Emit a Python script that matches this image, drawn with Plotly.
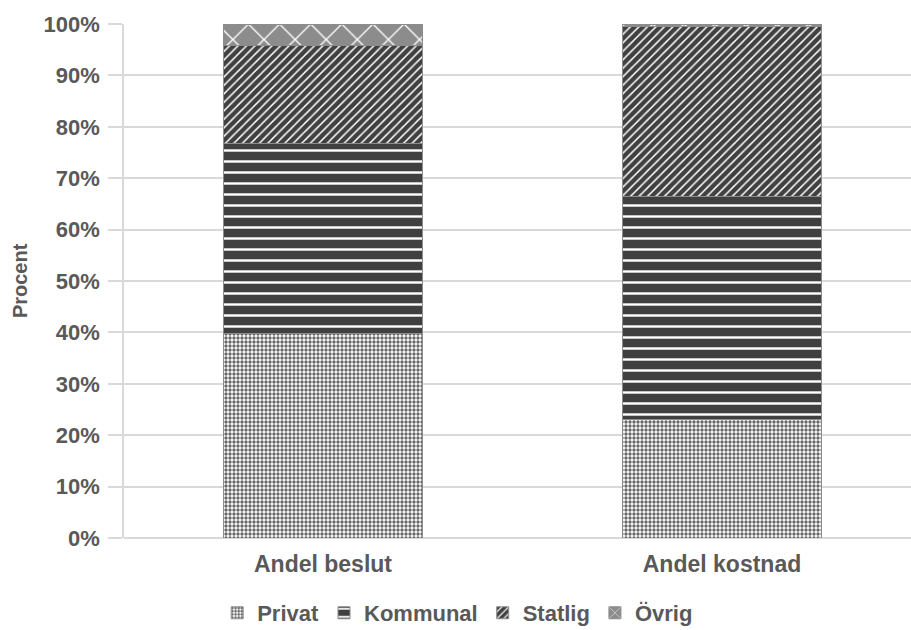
import plotly.graph_objects as go

categories = ["Andel beslut", "Andel kostnad"]
privat = [39.7, 23.0]
kommunal = [37.1, 43.5]
statlig = [19.0, 33.0]
ovrig = [4.2, 0.5]
tick_vals = [0, 10, 20, 30, 40, 50, 60, 70, 80, 90, 100]
tick_text = [f"{v}%" for v in tick_vals]

font_family = "Liberation Sans, Arial, sans-serif"
txt = "#595959"

series = [
    ("Privat", privat, dict(shape=".", fgcolor="#666666", bgcolor="#ffffff", size=4, solidity=0.55, fillmode="replace")),
    ("Kommunal", kommunal, dict(shape="-", fgcolor="#ffffff", bgcolor="#404040", size=11, solidity=0.22, fillmode="replace")),
    ("Statlig", statlig, dict(shape="/", fgcolor="#ffffff", bgcolor="#404040", size=6, solidity=0.25, fillmode="replace")),
    ("Övrig", ovrig, dict(shape="x", fgcolor="#ffffff", bgcolor="#8c8c8c", size=22, solidity=0.12, fillmode="replace")),
]

fig = go.Figure()
for name, vals, pat in series:
    fig.add_trace(go.Bar(
        name=name, x=categories, y=vals, width=0.501,
        marker=dict(color=pat["bgcolor"], pattern=pat,
                    line=dict(color="#8c8c8c", width=1)),
    ))

fig.update_layout(
    barmode="stack",
    width=911, height=630,
    margin=dict(l=124, r=0, t=24, b=92, autoexpand=False),
    paper_bgcolor="white", plot_bgcolor="white",
    font=dict(family=font_family, color=txt, size=22),
    showlegend=True,
    legend=dict(orientation="h", x=0.424, xanchor="center", y=-0.105, yanchor="top",
                font=dict(family=font_family, size=22, color=txt, weight="bold"),
                traceorder="normal", itemwidth=30),
    xaxis=dict(range=[-0.4987, 1.4737], showline=False, ticks="", automargin=False,
               ticklabelstandoff=10,
               tickfont=dict(family=font_family, size=23, color=txt, weight="bold")),
    yaxis=dict(range=[0, 100], tickvals=tick_vals, ticktext=tick_text, automargin=False,
               showgrid=True, gridcolor="#d9d9d9", gridwidth=1.5,
               showline=True, linecolor="#d9d9d9", linewidth=1.5,
               ticks="outside", ticklen=14, tickcolor="#d9d9d9", tickwidth=1.5,
               zeroline=True, zerolinecolor="#d9d9d9", zerolinewidth=1.5,
               ticklabelstandoff=4,
               tickfont=dict(family=font_family, size=22, color=txt, weight="bold")),
    annotations=[dict(text="Procent", xref="paper", yref="paper",
                      x=-0.132, y=0.5, xanchor="center", yanchor="middle",
                      textangle=-90, showarrow=False,
                      font=dict(family=font_family, size=20, color=txt, weight="bold"))],
)

fig.write_html("out.html", config={"displayModeBar": False},
               post_script="document.body.style.margin='0';document.body.style.overflow='hidden';")
